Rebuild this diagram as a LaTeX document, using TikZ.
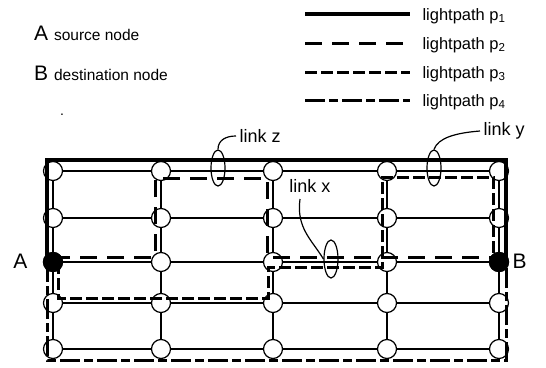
\documentclass[tikz,border=0pt]{standalone}
\usepackage{fontspec}
\setmainfont{Liberation Sans}
\usetikzlibrary{shapes.geometric}
\begin{document}
\begin{tikzpicture}[x=1pt,y=-1pt,
  gridln/.style={line width=1.2pt},
  nd/.style={circle,draw,fill=white,minimum size=19pt,inner sep=0pt,line width=1.2pt},
  endnd/.style={nd,fill=black},
  pone/.style={line width=3.2pt},
  ptwo/.style={line width=3pt,dash pattern=on 17pt off 10pt},
  pthree/.style={line width=3pt,dash pattern=on 12pt off 4pt},
  pfour/.style={line width=3pt,dash pattern=on 20pt off 4pt on 9pt off 4pt},
  ring/.style={ellipse,draw,line width=1.2pt,minimum width=14pt,inner sep=0pt},
  leader/.style={line width=1.2pt},
  lbl/.style={font=\fontsize{18}{18}\selectfont},
  leg/.style={font=\fontsize{16.5}{16.5}\selectfont,anchor=west},
  big/.style={font=\fontsize{21}{21}\selectfont}
]
\useasboundingbox (0,0) rectangle (546,367);

% grid coordinates
\foreach \x [count=\i] in {53,161,273,387,499}
  \foreach \y [count=\j] in {171,218,262,303,349}
    \coordinate (c\i\j) at (\x,\y);

% grid links
\foreach \j in {1,...,5} \draw[gridln] (c1\j) -- (c5\j);
\foreach \i in {1,...,5} \draw[gridln] (c\i1) -- (c\i5);

% nodes
\foreach \i in {1,...,5}
  \foreach \j in {1,...,5}
    \node[nd] (n\i\j) at (c\i\j) {};
\node[endnd] (A) at (c13) {};
\node[endnd] (B) at (c53) {};
\node[big,anchor=east] (Alab) at (31,261) {A};
\node[big,anchor=west] (Blab) at (509,261) {B};

% lightpath corners
\coordinate (p1a) at (47,262); \coordinate (p1b) at (47,160);
\coordinate (p1c) at (506,160); \coordinate (p1d) at (506,262);
\coordinate (p4b) at (47,360); \coordinate (p4c) at (506,360);
\coordinate (p2a) at (53,257); \coordinate (p2b) at (155,257);
\coordinate (p2c) at (155,178); \coordinate (p2d) at (267,178);
\coordinate (p2e) at (267,257); \coordinate (p2f) at (499,257);
\coordinate (p3a) at (58,262); \coordinate (p3b) at (58,298);
\coordinate (p3c) at (268,298); \coordinate (p3d) at (268,267);
\coordinate (p3e) at (382,267); \coordinate (p3f) at (382,177);
\coordinate (p3g) at (493,177); \coordinate (p3h) at (493,262);

\draw[pone] (p1a) -- (p1b) -- (p1c) -- (p1d);
\draw[pfour] (p1a) -- (p4b) -- (p4c) -- (p1d);
\draw[ptwo] (p2a) -- (p2b) -- (p2c) -- (p2d) -- (p2e) -- (p2f);
\draw[pthree] (p3a) -- (p3b) -- (p3c) -- (p3d) -- (p3e) -- (p3f) -- (p3g) -- (p3h);

% link annotations
\node[ring,minimum height=36pt] (ez) at (218,168) {};
\node[ring,minimum height=36pt] (ey) at (434,168) {};
\node[ring,minimum height=38pt] (ex) at (331,259) {};
\node[lbl,anchor=west] (lz) at (236,136) {link z};
\node[lbl,anchor=west] (ly) at (480,131) {link y};
\node[lbl] (lx) at (310,186) {link x};
\coordinate (lxs) at (300,199);
\draw[leader] (ez.north) .. controls (218,140) and (226,136) .. (lz.west);
\draw[leader] (ey.north) .. controls (438,138) and (455,133) .. (ly.west);
\draw[leader] (lxs) .. controls (296,228) and (312,240) .. (ex.west);

% legend
\node[anchor=base west,inner sep=0pt] (la) at (34,40) {\fontsize{21}{21}\selectfont A \fontsize{15.5}{15.5}\selectfont source node};
\node[anchor=base west,inner sep=0pt] (lb) at (34,80) {\fontsize{21}{21}\selectfont B \fontsize{15.5}{15.5}\selectfont destination node};
\node[font=\fontsize{14}{14}\selectfont] (dot) at (62,115) {.};

\coordinate (l1a) at (305,14); \coordinate (l1b) at (410,14);
\coordinate (l2a) at (305,43); \coordinate (l2b) at (410,43);
\coordinate (l3a) at (305,72); \coordinate (l3b) at (410,72);
\coordinate (l4a) at (305,100); \coordinate (l4b) at (410,100);
\draw[pone] (l1a) -- (l1b);
\draw[ptwo] (l2a) -- (l2b);
\draw[pthree] (l3a) -- (l3b);
\draw[pfour] (l4a) -- (l4b);
\node[leg] (t1) at (419,16) {lightpath p\textsubscript{1}};
\node[leg] (t2) at (419,45) {lightpath p\textsubscript{2}};
\node[leg] (t3) at (419,74) {lightpath p\textsubscript{3}};
\node[leg] (t4) at (419,102) {lightpath p\textsubscript{4}};
\end{tikzpicture}
\end{document}
